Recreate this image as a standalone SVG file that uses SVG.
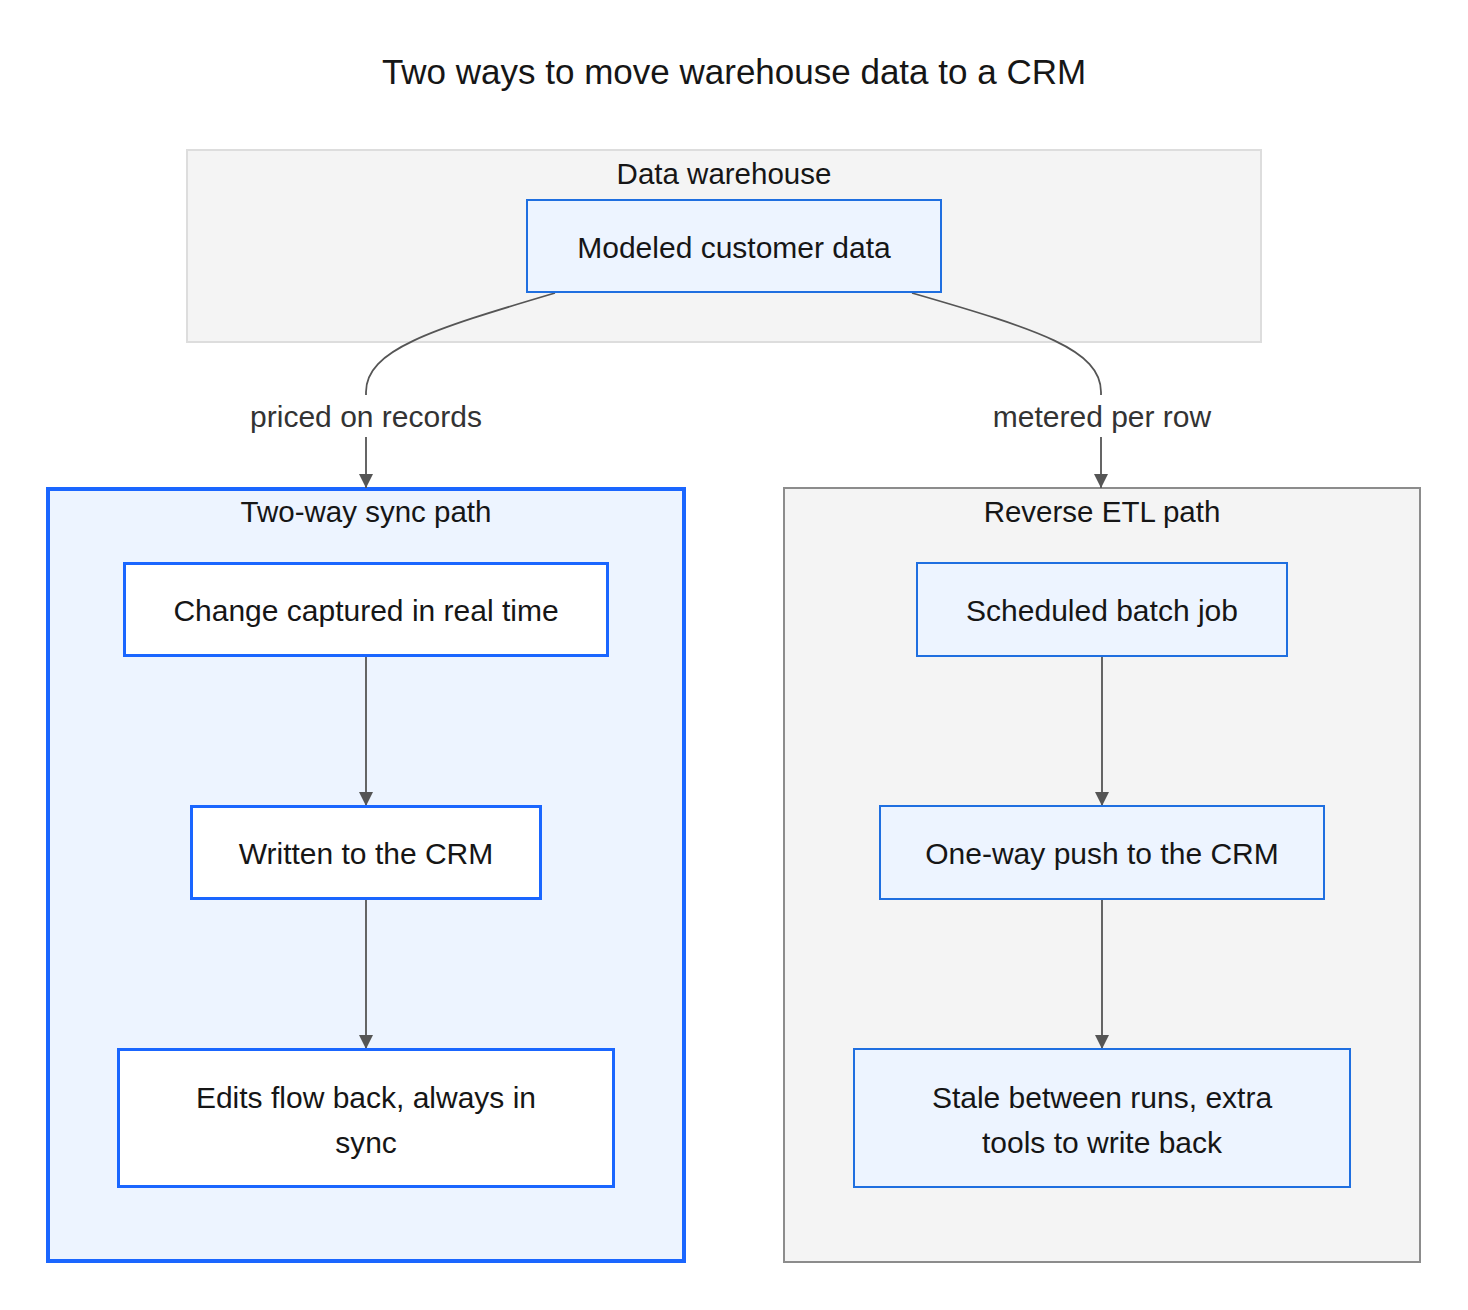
<svg xmlns="http://www.w3.org/2000/svg" width="1468" height="1310" viewBox="0 0 1468 1310">
<defs>
<marker id="arr" viewBox="0 0 14 14" refX="14" refY="7" markerWidth="14" markerHeight="14" markerUnits="userSpaceOnUse" orient="auto">
<path d="M0,0 L14,7 L0,14 Z" fill="#555555"/>
</marker>
<style>
text{font-family:"Liberation Sans",Arial,sans-serif;fill:#161616;text-anchor:middle}
.title{font-size:35px}
.clabel{font-size:29.5px}
.ntext{font-size:30px}
.elabel{font-size:30px;fill:#333333}
.edge{fill:none;stroke:#555555;stroke-width:1.8}
.nodeA{fill:#edf4ff;stroke:#1f6fe0;stroke-width:2}
.nodeB{fill:#ffffff;stroke:#1a66ff;stroke-width:3}
</style>
</defs>
<rect x="0" y="0" width="1468" height="1310" fill="#ffffff"/>
<text class="title" x="734" y="84">Two ways to move warehouse data to a CRM</text>

<g id="cluster-warehouse">
<rect x="187" y="150" width="1074" height="192" fill="#f4f4f4" stroke="#dddddd" stroke-width="2"/>
<text class="clabel" x="724" y="184">Data warehouse</text>
</g>
<g id="cluster-twoway">
<rect x="48" y="489" width="636" height="772" fill="#edf4ff" stroke="#1a66ff" stroke-width="4"/>
<text class="clabel" x="366" y="522">Two-way sync path</text>
</g>
<g id="cluster-retl">
<rect x="784" y="488" width="636" height="774" fill="#f4f4f4" stroke="#8c8c8c" stroke-width="2"/>
<text class="clabel" x="1102" y="522">Reverse ETL path</text>
</g>

<g id="connectors">
<path class="edge" d="M555,293 C430,330 366,350 366,392 L366,488" marker-end="url(#arr)"/>
<path class="edge" d="M912,293 C1040,330 1101,350 1101,392 L1101,488" marker-end="url(#arr)"/>
<path class="edge" d="M366,656 L366,806" marker-end="url(#arr)"/>
<path class="edge" d="M366,899 L366,1049" marker-end="url(#arr)"/>
<path class="edge" d="M1102,656 L1102,806" marker-end="url(#arr)"/>
<path class="edge" d="M1102,899 L1102,1049" marker-end="url(#arr)"/>
<g id="label-priced">
<rect x="240" y="395" width="252" height="42" fill="#ffffff"/>
<text class="elabel" x="366" y="427">priced on records</text>
</g>
<g id="label-metered">
<rect x="982" y="395" width="240" height="42" fill="#ffffff"/>
<text class="elabel" x="1102" y="427">metered per row</text>
</g>
</g>

<g id="node-modeled">
<rect class="nodeA" x="527" y="200" width="414" height="92"/>
<text class="ntext" x="734" y="258">Modeled customer data</text>
</g>
<g id="node-change">
<rect class="nodeB" x="124.5" y="563.5" width="483" height="92"/>
<text class="ntext" x="366" y="621">Change captured in real time</text>
</g>
<g id="node-written">
<rect class="nodeB" x="191.5" y="806.5" width="349" height="92"/>
<text class="ntext" x="366" y="864">Written to the CRM</text>
</g>
<g id="node-edits">
<rect class="nodeB" x="118.5" y="1049.5" width="495" height="137"/>
<text class="ntext" x="366" y="1108">Edits flow back, always in</text>
<text class="ntext" x="366" y="1153">sync</text>
</g>
<g id="node-scheduled">
<rect class="nodeA" x="917" y="563" width="370" height="93"/>
<text class="ntext" x="1102" y="621">Scheduled batch job</text>
</g>
<g id="node-oneway">
<rect class="nodeA" x="880" y="806" width="444" height="93"/>
<text class="ntext" x="1102" y="864">One-way push to the CRM</text>
</g>
<g id="node-stale">
<rect class="nodeA" x="854" y="1049" width="496" height="138"/>
<text class="ntext" x="1102" y="1108">Stale between runs, extra</text>
<text class="ntext" x="1102" y="1153">tools to write back</text>
</g>
</svg>
